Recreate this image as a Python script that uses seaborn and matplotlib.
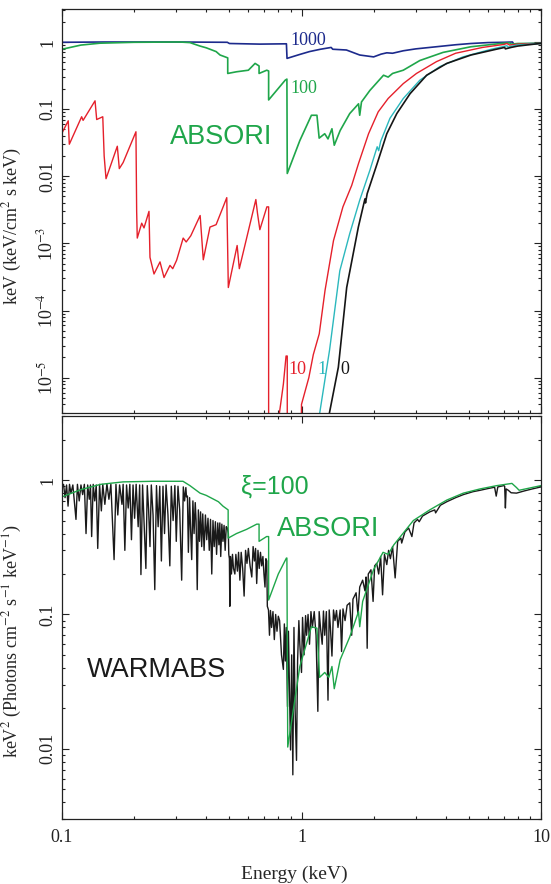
import numpy as np
import pandas as pd
import seaborn as sns
import matplotlib.pyplot as plt
from matplotlib.ticker import LogLocator, NullFormatter

# ---- top panel: ABSORI model for xi = 1000, 100, 10, 1, 0  (energy keV, flux) ----
xi1000 = [(0.10, 0.99), (0.15, 1.00), (0.20, 1.00), (0.30, 1.00), (0.49, 0.99), (0.50, 0.95),
          (0.67, 0.93), (0.865, 0.94), (0.87, 0.57), (0.98, 0.65), (1.08, 0.72), (1.20, 0.78),
          (1.33, 0.83), (1.35, 0.78), (1.54, 0.76), (1.75, 0.64), (2.00, 0.60), (2.15, 0.66),
          (2.27, 0.69), (2.40, 0.68), (2.66, 0.74), (3.00, 0.79), (3.66, 0.85), (4.40, 0.91),
          (5.10, 0.95), (6.00, 0.98), (7.00, 0.99), (7.60, 1.00), (7.70, 0.93), (8.50, 0.94),
          (10.0, 0.955)]

xi100 = [(0.10, 0.78), (0.12, 0.90), (0.144, 0.96), (0.20, 0.99), (0.31, 1.00), (0.342, 0.98),
         (0.377, 0.87), (0.40, 0.82), (0.415, 0.78), (0.44, 0.72), (0.457, 0.64), (0.48, 0.60),
         (0.492, 0.58), (0.492, 0.34), (0.535, 0.36), (0.60, 0.38), (0.64, 0.48), (0.665, 0.44),
         (0.665, 0.34), (0.716, 0.38), (0.729, 0.37), (0.729, 0.137), (0.855, 0.27), (0.869, 0.28),
         (0.872, 0.011), (0.984, 0.034), (1.10, 0.081), (1.16, 0.081), (1.185, 0.037), (1.25, 0.043),
         (1.29, 0.036), (1.34, 0.051), (1.37, 0.029), (1.45, 0.048), (1.59, 0.086), (1.73, 0.12),
         (1.75, 0.081), (1.78, 0.128), (1.93, 0.19), (2.20, 0.32), (2.30, 0.30), (2.40, 0.34),
         (2.66, 0.38), (3.12, 0.53), (3.90, 0.70), (5.10, 0.85), (6.90, 0.955), (7.40, 0.97),
         (7.50, 0.93), (8.00, 0.95), (10.0, 0.955)]

xi10 = [(0.100, 0.044), (0.1062, 0.067), (0.1073, 0.030), (0.1208, 0.077), (0.1225, 0.068),
        (0.1374, 0.133), (0.1396, 0.070), (0.148, 0.077), (0.150, 0.020), (0.1527, 0.0092),
        (0.1702, 0.028), (0.1735, 0.013), (0.180, 0.016), (0.2036, 0.046), (0.2050, 0.0030),
        (0.2062, 0.0012), (0.2152, 0.0020), (0.220, 0.0017), (0.2308, 0.0030), (0.2330, 0.00062),
        (0.2422, 0.00035), (0.2566, 0.00053), (0.2667, 0.00031), (0.2824, 0.00047), (0.290, 0.00042),
        (0.301, 0.00056), (0.3206, 0.0012), (0.330, 0.00105), (0.345, 0.0013), (0.3774, 0.0026),
        (0.3890, 0.00057), (0.4148, 0.00175), (0.440, 0.0019), (0.4875, 0.0048), (0.4948, 0.00022),
        (0.5386, 0.00093), (0.5500, 0.00042), (0.6448, 0.0045), (0.655, 0.0028), (0.670, 0.0016),
        (0.7168, 0.0035), (0.729, 0.0035), (0.729, 1e-8), (0.800, 1e-8), (0.808, 2.9e-6),
        (0.840, 8e-6), (0.862, 2.1e-5), (0.872, 2.1e-5), (0.872, 1e-8), (0.985, 1e-8),
        (1.000, 4e-6), (1.073, 1.0e-5), (1.120, 2.2e-5), (1.186, 4.5e-5), (1.254, 2.0e-4),
        (1.360, 1.1e-3), (1.489, 3.5e-3), (1.620, 7.3e-3), (1.730, 0.0155), (1.905, 0.043),
        (2.090, 0.091), (2.300, 0.144), (2.660, 0.24), (3.020, 0.34), (3.660, 0.51), (4.400, 0.68),
        (5.700, 0.83), (7.000, 0.92), (7.200, 0.95), (7.400, 0.90), (8.000, 0.93), (10.0, 0.955)]

xi1 = [(1.15, 1e-8), (1.19, 2.9e-6), (1.31, 2.6e-5), (1.445, 3.9e-4), (1.59, 1.4e-3), (1.75, 4.4e-3),
       (1.93, 0.0123), (2.07, 0.0275), (2.10, 0.024), (2.14, 0.033), (2.34, 0.073), (2.66, 0.144),
       (3.12, 0.27), (3.78, 0.43), (4.72, 0.60), (6.20, 0.78), (7.00, 0.86), (7.20, 0.88),
       (7.30, 0.84), (7.90, 0.90), (10.0, 0.955)]

xi0 = [(1.25, 1e-8), (1.306, 2.9e-6), (1.425, 1.43e-5), (1.544, 2.2e-4), (1.727, 1.75e-3),
       (1.84, 4.6e-3), (1.85, 4.0e-3), (1.88, 5.5e-3), (2.07, 0.0155), (2.27, 0.043), (2.50, 0.086),
       (2.84, 0.17), (3.33, 0.32), (4.04, 0.48), (5.10, 0.64), (6.50, 0.78), (7.05, 0.83),
       (7.10, 0.79), (7.50, 0.83), (8.00, 0.87), (10.0, 0.955)]

# ---- bottom panel: ABSORI (xi=100) vs WARMABS ----
absori100 = [(0.10, 0.75), (0.12, 0.85), (0.145, 0.93), (0.18, 0.97), (0.24, 0.98), (0.32, 0.98),
             (0.342, 0.91), (0.377, 0.80), (0.40, 0.77), (0.43, 0.72), (0.45, 0.69), (0.47, 0.64),
             (0.494, 0.60), (0.494, 0.37), (0.535, 0.40), (0.59, 0.43), (0.65, 0.47), (0.665, 0.47),
             (0.665, 0.35), (0.715, 0.38), (0.729, 0.38), (0.729, 0.128), (0.80, 0.20), (0.865, 0.263),
             (0.869, 0.263), (0.876, 0.0103), (0.984, 0.041), (1.10, 0.081), (1.16, 0.079),
             (1.19, 0.034), (1.25, 0.037), (1.30, 0.034), (1.34, 0.041), (1.37, 0.028), (1.45, 0.046),
             (1.59, 0.068), (1.73, 0.105), (1.75, 0.081), (1.80, 0.125), (2.00, 0.216), (2.19, 0.29),
             (2.30, 0.28), (2.43, 0.33), (2.93, 0.50), (3.43, 0.60), (4.04, 0.71), (4.74, 0.80),
             (5.57, 0.86), (6.54, 0.91), (7.56, 0.945), (7.90, 0.88), (8.10, 0.84), (10.0, 0.91)]

warmabs = [(0.100, 0.88), (0.1015, 0.93), (0.103, 0.74), (0.1045, 0.92), (0.106, 0.64), (0.1075, 0.93),
           (0.109, 0.80), (0.111, 0.92), (0.1144, 0.51), (0.116, 0.93), (0.118, 0.70), (0.120, 0.92),
           (0.122, 0.78), (0.124, 0.93), (0.126, 0.40), (0.128, 0.92), (0.130, 0.72), (0.1315, 0.92),
           (0.133, 0.38), (0.135, 0.93), (0.137, 0.70), (0.139, 0.92), (0.141, 0.31), (0.1435, 0.93),
           (0.146, 0.59), (0.148, 0.93), (0.151, 0.66), (0.154, 0.94), (0.157, 0.72), (0.160, 0.93),
           (0.165, 0.256), (0.168, 0.93), (0.171, 0.55), (0.174, 0.92), (0.178, 0.66), (0.180, 0.93),
           (0.183, 0.30), (0.186, 0.92), (0.189, 0.62), (0.192, 0.93), (0.195, 0.36), (0.198, 0.92),
           (0.201, 0.52), (0.204, 0.93), (0.208, 0.45), (0.211, 0.92), (0.2136, 0.198), (0.217, 0.92),
           (0.220, 0.50), (0.224, 0.22), (0.227, 0.91), (0.230, 0.60), (0.233, 0.32), (0.236, 0.92),
           (0.240, 0.55), (0.244, 0.153), (0.248, 0.91), (0.252, 0.45), (0.256, 0.90), (0.260, 0.25),
           (0.264, 0.90), (0.268, 0.40), (0.272, 0.92), (0.277, 0.55), (0.282, 0.23), (0.286, 0.90),
           (0.291, 0.50), (0.296, 0.91), (0.300, 0.35), (0.305, 0.90), (0.310, 0.60), (0.316, 0.18),
           (0.321, 0.89), (0.325, 0.70), (0.329, 0.88), (0.331, 0.75), (0.334, 0.76), (0.337, 0.29),
           (0.341, 0.74), (0.344, 0.45), (0.348, 0.256), (0.352, 0.70), (0.356, 0.40), (0.360, 0.68),
           (0.363, 0.50), (0.367, 0.153), (0.371, 0.60), (0.375, 0.35), (0.379, 0.58), (0.383, 0.32),
           (0.387, 0.56), (0.392, 0.30), (0.397, 0.55), (0.402, 0.36), (0.407, 0.52), (0.412, 0.30),
           (0.417, 0.51), (0.422, 0.20), (0.427, 0.50), (0.432, 0.32), (0.437, 0.49), (0.442, 0.28),
           (0.447, 0.48), (0.452, 0.33), (0.456, 0.48), (0.460, 0.27), (0.465, 0.47), (0.470, 0.35),
           (0.475, 0.46), (0.480, 0.30), (0.485, 0.45), (0.490, 0.44), (0.495, 0.40), (0.497, 0.28),
           (0.500, 0.26), (0.502, 0.115), (0.505, 0.27), (0.510, 0.20), (0.515, 0.28), (0.520, 0.22),
           (0.527, 0.20), (0.532, 0.28), (0.540, 0.21), (0.546, 0.29), (0.553, 0.18), (0.560, 0.29),
           (0.568, 0.22), (0.576, 0.137), (0.584, 0.30), (0.592, 0.24), (0.600, 0.31), (0.610, 0.23),
           (0.620, 0.19), (0.628, 0.32), (0.636, 0.25), (0.643, 0.31), (0.650, 0.17), (0.658, 0.30),
           (0.666, 0.22), (0.674, 0.29), (0.682, 0.23), (0.690, 0.27), (0.697, 0.20), (0.704, 0.16),
           (0.710, 0.26), (0.716, 0.25), (0.720, 0.115), (0.728, 0.108), (0.735, 0.07), (0.742, 0.107),
           (0.750, 0.08), (0.760, 0.105), (0.770, 0.065), (0.780, 0.10), (0.790, 0.075), (0.800, 0.097),
           (0.810, 0.09), (0.825, 0.05), (0.840, 0.039), (0.848, 0.085), (0.856, 0.045), (0.864, 0.08),
           (0.874, 0.0206), (0.882, 0.075), (0.890, 0.03), (0.900, 0.0098), (0.910, 0.05), (0.920, 0.0064),
           (0.930, 0.08), (0.940, 0.02), (0.953, 0.0082), (0.963, 0.045), (0.975, 0.09), (0.984, 0.06),
           (1.000, 0.037), (1.010, 0.095), (1.025, 0.05), (1.040, 0.098), (1.050, 0.07), (1.065, 0.10),
           (1.080, 0.06), (1.095, 0.105), (1.110, 0.08), (1.130, 0.105), (1.150, 0.07), (1.170, 0.019),
           (1.185, 0.105), (1.200, 0.08), (1.220, 0.06), (1.235, 0.106), (1.250, 0.07), (1.270, 0.105),
           (1.290, 0.023), (1.305, 0.108), (1.320, 0.08), (1.340, 0.049), (1.360, 0.108), (1.380, 0.09),
           (1.400, 0.107), (1.420, 0.08), (1.450, 0.108), (1.470, 0.053), (1.490, 0.11), (1.520, 0.09),
           (1.550, 0.117), (1.590, 0.122), (1.620, 0.07), (1.640, 0.13), (1.690, 0.145), (1.720, 0.10),
           (1.750, 0.16), (1.800, 0.18), (1.840, 0.15), (1.860, 0.19), (1.880, 0.056), (1.900, 0.20),
           (1.950, 0.215), (1.990, 0.125), (2.020, 0.23), (2.060, 0.24), (2.100, 0.20), (2.140, 0.27),
           (2.180, 0.14), (2.220, 0.28), (2.270, 0.235), (2.310, 0.30), (2.350, 0.26), (2.400, 0.32),
           (2.460, 0.187), (2.520, 0.35), (2.600, 0.37), (2.620, 0.34), (2.700, 0.41), (2.800, 0.44),
           (2.890, 0.38), (2.950, 0.48), (3.050, 0.51), (3.100, 0.49), (3.200, 0.54), (3.430, 0.58),
           (3.600, 0.60), (3.630, 0.57), (3.800, 0.65), (4.040, 0.69), (4.400, 0.74), (4.740, 0.78),
           (5.200, 0.82), (5.570, 0.84), (6.000, 0.865), (6.400, 0.885), (6.500, 0.76), (6.600, 0.89),
           (7.000, 0.91), (7.050, 0.90), (7.100, 0.62), (7.150, 0.86), (7.300, 0.84), (7.500, 0.805),
           (7.900, 0.80), (8.500, 0.83), (9.200, 0.86), (10.0, 0.89)]

top_curves = [(xi1000, "#1c2a8c", 1.2), (xi100, "#1fa64a", 1.2), (xi10, "#e5202b", 1.0),
              (xi1, "#2bb8bd", 1.0), (xi0, "#151515", 1.2)]

GREEN = "#1fa64a"
SERIF = ["Liberation Serif", "DejaVu Serif"]
SANS = ["Liberation Sans", "DejaVu Sans"]

sns.set_style("ticks")
plt.rcParams["font.family"] = SERIF
plt.rcParams["mathtext.fontset"] = "stix"
plt.rcParams["axes.linewidth"] = 0.9


def curve_df(pairs):
    return pd.DataFrame(pairs, columns=["E", "F"])


def style_axis(ax, ylim, yticks, ylabels):
    ax.set_xscale("log")
    ax.set_yscale("log")
    ax.set_xlim(0.1, 10)
    ax.set_ylim(*ylim)
    ax.xaxis.set_minor_locator(LogLocator(base=10, subs=np.arange(2, 10), numticks=50))
    ax.yaxis.set_minor_locator(LogLocator(base=10, subs=np.arange(2, 10), numticks=50))
    ax.xaxis.set_minor_formatter(NullFormatter())
    ax.yaxis.set_minor_formatter(NullFormatter())
    ax.set_yticks(yticks, ylabels)
    ax.tick_params(which="both", direction="in", top=True, right=True, width=0.8, colors="#222222")
    ax.tick_params(which="major", length=5, labelsize=13)
    ax.tick_params(axis="x", which="major", pad=7)
    ax.tick_params(axis="y", which="major", pad=4)
    ax.tick_params(which="minor", length=2.5)
    for lab in ax.get_yticklabels():
        lab.set_rotation(90)
        lab.set_va("center")
    for sp in ax.spines.values():
        sp.set_visible(True)
        sp.set_color("#222222")


fig = plt.figure(figsize=(5.51, 8.84), dpi=100)
ax1 = fig.add_axes([0.1125, 0.5331, 0.8694, 0.4567])
ax2 = fig.add_axes([0.1125, 0.0735, 0.8694, 0.4559])

for pairs, col, lw in top_curves:
    sns.lineplot(data=curve_df(pairs), x="E", y="F", ax=ax1, color=col, lw=lw,
                 sort=False, estimator=None)

sns.lineplot(data=curve_df(warmabs), x="E", y="F", ax=ax2, color="#1a1a1a", lw=1.0,
             sort=False, estimator=None)
sns.lineplot(data=curve_df(absori100), x="E", y="F", ax=ax2, color=GREEN, lw=1.0,
             sort=False, estimator=None)

style_axis(ax1, (3e-6, 3.1), [1, 0.1, 0.01, 1e-3, 1e-4, 1e-5],
           ["1", "0.1", "0.01", r"10$^{-3}$", r"10$^{-4}$", r"10$^{-5}$"])
style_axis(ax2, (0.003, 3.0), [1, 0.1, 0.01], ["1", "0.1", "0.01"])

ax1.set_xticks([0.1, 1, 10], ["", "", ""])
ax2.set_xticks([0.1, 1, 10], ["0.1", "1", "10"])
ax1.set_xlabel("")
ax1.set_ylabel(r"keV (keV/cm$^2$ s keV)", fontsize=13)
ax1.yaxis.set_label_coords(-0.079, 0.4625)
ax2.set_ylabel(r"keV$^2$ (Photons cm$^{-2}$ s$^{-1}$ keV$^{-1}$)", fontsize=13)
ax2.yaxis.set_label_coords(-0.079, 0.4417)
ax2.set_xlabel("Energy (keV)", fontsize=14)
ax2.xaxis.set_label_coords(0.486, -0.115)

# curve labels, top panel
ax1.text(0.895, 1.07, "1000", color="#1c2a8c", fontsize=13, va="center")
ax1.text(0.895, 0.206, "100", color=GREEN, fontsize=13, va="center")
ax1.text(0.88, 1.3e-5, "10", color="#e5202b", fontsize=13, va="center")
ax1.text(1.16, 1.3e-5, "1", color="#2bb8bd", fontsize=13, va="center")
ax1.text(1.45, 1.3e-5, "0", color="#151515", fontsize=13, va="center")
ax1.text(0.461, 0.038, "ABSORI", color=GREEN, fontsize=19.5, family=SANS, ha="center", va="center")

# bottom panel labels
ax2.text(0.559, 0.90, "ξ=100", color=GREEN, fontsize=18, family=SANS, va="center")
ax2.text(0.79, 0.43, "ABSORI", color=GREEN, fontsize=19.5, family=SANS, va="center")
ax2.text(0.127, 0.0387, "WARMABS", color="#1a1a1a", fontsize=19.5, family=SANS, va="center")

fig.savefig("out.png", dpi=100)
